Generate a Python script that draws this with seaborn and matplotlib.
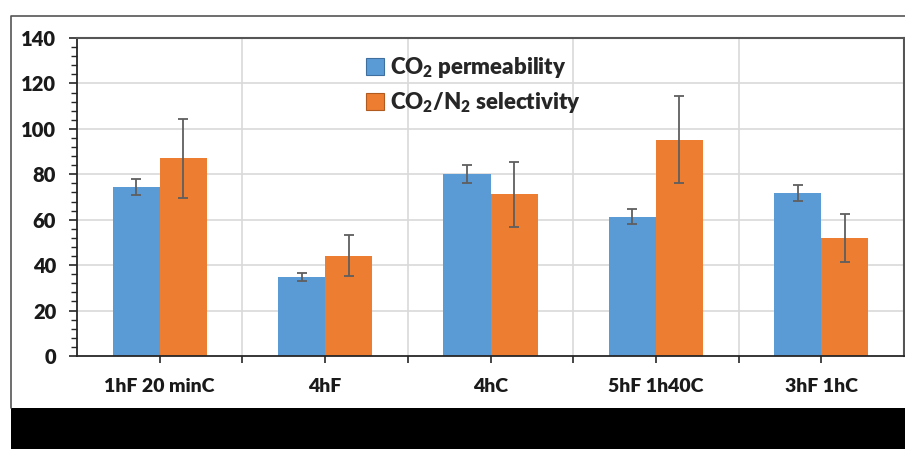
import matplotlib
matplotlib.use("Agg")
import matplotlib.pyplot as plt
import numpy as np
import pandas as pd
import seaborn as sns
from matplotlib.patches import Rectangle, Patch
from matplotlib.lines import Line2D
from matplotlib.ticker import MultipleLocator, FixedLocator

# data
samples = ["1hF 20 minC", "4hF", "4hC", "5hF 1h40C", "3hF 1hC"]
permeability = [74.3, 34.9, 80.0, 61.3, 71.9]
permeability_err = [3.6, 1.7, 4.0, 3.2, 3.5]
selectivity = [87.0, 44.2, 71.2, 95.2, 52.0]
selectivity_err = [17.5, 9.0, 14.2, 19.2, 10.5]
series = ["CO$_2$ permeability", "CO$_2$/N$_2$ selectivity"]
colors = ["#5B9BD5", "#ED7D31"]

df = pd.DataFrame({
    "sample": samples * 2,
    "value": permeability + selectivity,
    "series": [series[0]] * len(samples) + [series[1]] * len(samples),
})

sns.set_style("white")
plt.rcParams["font.family"] = ["Lato", "DejaVu Sans"]
plt.rcParams["font.weight"] = "heavy"
plt.rcParams["mathtext.fontset"] = "custom"
plt.rcParams["mathtext.bf"] = "Lato:heavy"
plt.rcParams["mathtext.rm"] = "Lato:heavy"
plt.rcParams["mathtext.default"] = "bf"

fig = plt.figure(figsize=(9.05, 4.49), dpi=100)
ax = fig.add_axes([77 / 905, 1 - 356 / 449, 827 / 905, 318 / 449])

sns.barplot(data=df, x="sample", y="value", hue="series", order=samples,
            hue_order=series, palette=colors, width=0.57, errorbar=None,
            saturation=1, linewidth=0, legend=False, ax=ax)

# error bars placed on the bar centers
for cont, errs in zip(ax.containers, [permeability_err, selectivity_err]):
    xs = [b.get_x() + b.get_width() / 2 for b in cont]
    ys = [b.get_height() for b in cont]
    ax.errorbar(xs, ys, yerr=errs, fmt="none", ecolor="#5f5f5f",
                elinewidth=1.3, capsize=3.5, capthick=1.3, zorder=4)

ax.set_xlim(-0.5, len(samples) - 0.5)
ax.set_ylim(0, 140)
ax.set_xlabel("")
ax.set_ylabel("")

ax.yaxis.set_major_locator(MultipleLocator(20))
ax.yaxis.set_minor_locator(MultipleLocator(4))
ax.xaxis.set_minor_locator(FixedLocator(np.arange(0.5, len(samples) - 0.5, 1)))

ax.grid(False)
for y in range(20, 140, 20):
    ax.axhline(y, color="#d9d9d9", lw=1.2, zorder=0)
for x in np.arange(0.5, len(samples) - 0.5, 1):
    ax.axvline(x, color="#d9d9d9", lw=1.2, zorder=0)
ax.set_axisbelow(True)

for side in ["left", "bottom"]:
    ax.spines[side].set_color("#262626")
    ax.spines[side].set_linewidth(1.3)
for side in ["top", "right"]:
    ax.spines[side].set_color("#555555")
    ax.spines[side].set_linewidth(1.5)

ax.tick_params(axis="y", which="major", direction="out", length=6, width=1.2,
               color="#262626", left=True, pad=9, labelsize=14.5)
ax.tick_params(axis="y", which="minor", direction="out", length=4, width=1.0,
               color="#262626", left=True)
ax.tick_params(axis="x", which="both", direction="out", length=5, width=1.2,
               color="#262626", bottom=True, pad=11, labelsize=14)
for lbl in ax.get_xticklabels() + ax.get_yticklabels():
    lbl.set_fontweight("heavy")
    lbl.set_color("#1a1a1a")

handles = [Patch(facecolor=c, edgecolor="#3f6f9f" if i == 0 else "#b05a20", lw=0.8)
           for i, c in enumerate(colors)]
fig.legend(handles, series, loc="upper left",
           bbox_to_anchor=(366 / 905, 1 - 55 / 449), frameon=False,
           prop={"size": 16, "weight": "heavy"}, handlelength=0.8,
           handleheight=0.8, handletextpad=0.3, labelspacing=0.45,
           borderpad=0, borderaxespad=0)

# outer frame and black band at the bottom
fig.add_artist(Line2D([11 / 905, 11 / 905, 1.0], [1 - 408 / 449, 1 - 16 / 449, 1 - 16 / 449],
                      transform=fig.transFigure, color="#555555", lw=1.2))
fig.add_artist(Rectangle((11 / 905, 0), 1, 41 / 449, transform=fig.transFigure,
                         facecolor="black", edgecolor="none"))

fig.savefig("out.png", dpi=100)
